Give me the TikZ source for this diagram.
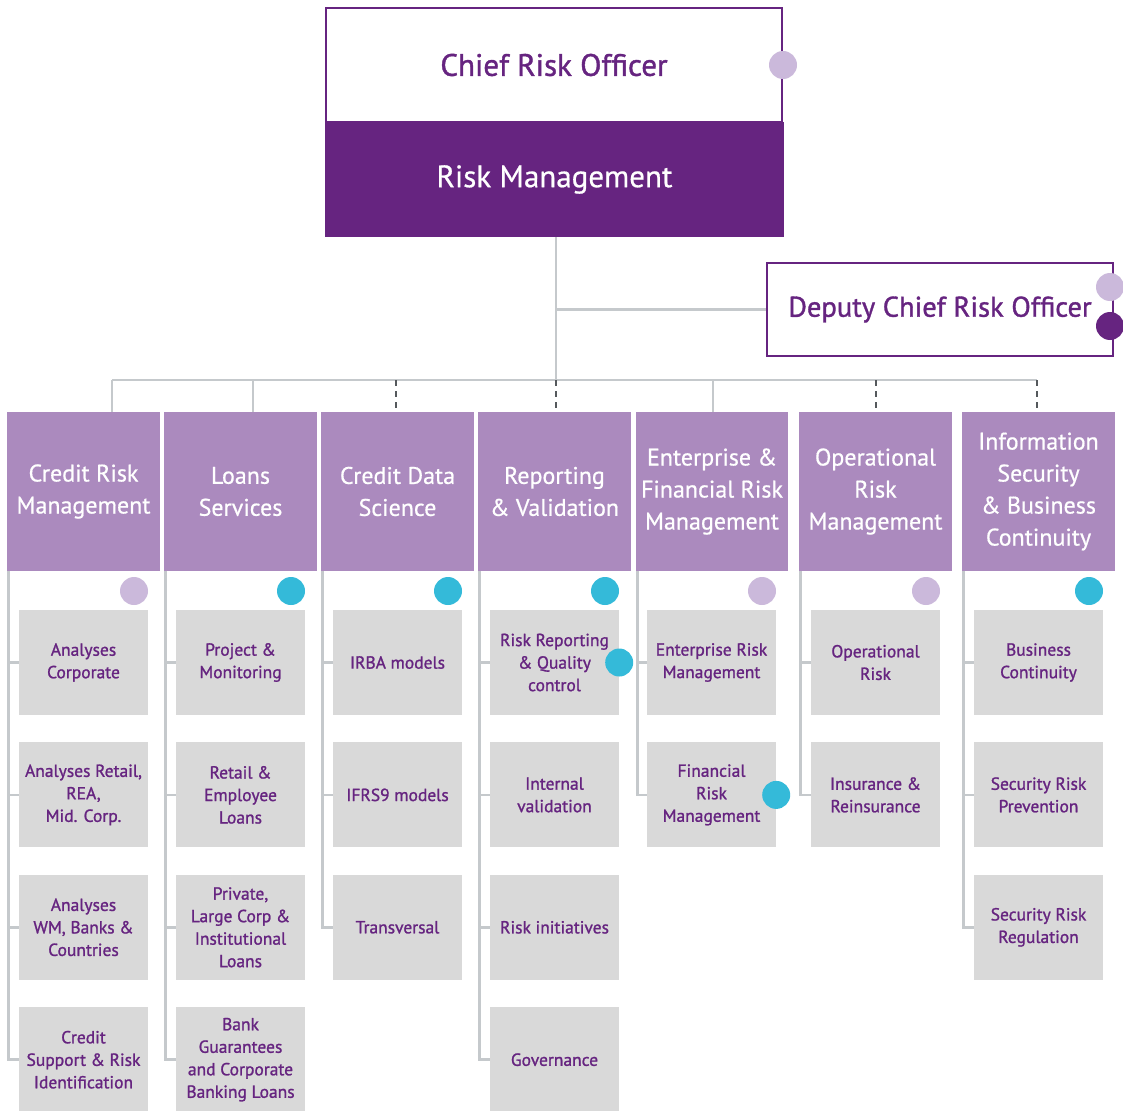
\documentclass[tikz,border=0pt]{standalone}
\usepackage{fontspec}
\setmainfont{PT Sans}
\newfontfamily\unitfont[FakeBold=1.2]{PT Sans}
\newfontfamily\headfont[FakeBold=0.6]{PT Sans}
\usepackage{tikz}
\usetikzlibrary{positioning}
\definecolor{riskpurple}{HTML}{662480}
\definecolor{headpurple}{HTML}{AB8ABE}
\definecolor{lilac}{HTML}{CBB9DB}
\definecolor{teal}{HTML}{34BAD9}
\definecolor{boxgray}{HTML}{D9D9D9}
\definecolor{linegray}{HTML}{C5C9CC}
\definecolor{dashgray}{HTML}{55595C}

\begin{document}
\begin{tikzpicture}[x=1pt, y=-1pt, node distance=27pt,
                    headbox/.style={rectangle, fill=headpurple, text=white, inner sep=0pt,
                                    minimum width=153pt, minimum height=159pt, align=center,
                                    font=\headfont\fontsize{24}{32}\selectfont},
                    unitbox/.style={rectangle, fill=boxgray, text=riskpurple, inner sep=0pt,
                                    minimum width=129pt, minimum height=105pt, align=center,
                                    font=\unitfont\fontsize{17.5}{22.5}\selectfont},
                    litedot/.style={circle, fill=lilac, inner sep=0pt, minimum size=28pt},
                    tealdot/.style={circle, fill=teal, inner sep=0pt, minimum size=28pt},
                    darkdot/.style={circle, fill=riskpurple, inner sep=0pt, minimum size=28pt},
                    link/.style={draw=linegray, line width=2.5pt},
                    dashlink/.style={draw=dashgray, line width=2pt, dash pattern=on 6pt off 5pt}
                   ]
\useasboundingbox (0,0) rectangle (1123,1110);
%Nodes
\node[rectangle, draw=riskpurple, line width=2pt, fill=white, minimum width=456pt, minimum height=114pt,
      text=riskpurple, font=\unitfont\fontsize{31}{36}\selectfont] (cro) at (554,65) {Chief Risk Officer};
\node[rectangle, fill=riskpurple, minimum width=459pt, minimum height=115pt,
      text=white, font=\headfont\fontsize{31}{36}\selectfont] (rm) at (554.5,179.5) {Risk Management};
\node[rectangle, draw=riskpurple, line width=2pt, fill=white, minimum width=346pt, minimum height=93pt,
      text=riskpurple, font=\unitfont\fontsize{28.5}{32}\selectfont] (dep) at (940,309.5) {Deputy Chief Risk Officer};

\node[headbox] (h1) at (83.5,491.5)  {Credit Risk\\Management};
\node[headbox] (h2) at (240.5,491.5) {Loans\\Services};
\node[headbox] (h3) at (397.5,491.5) {Credit Data\\Science};
\node[headbox] (h4) at (554.5,491.5) {Reporting\\\& Validation};
\node[headbox, minimum width=152pt] (h5) at (712,491.5) {Enterprise \&\\Financial Risk\\Management};
\node[headbox] (h6) at (875.5,491.5) {Operational\\Risk\\Management};
\node[headbox] (h7) at (1038.5,491.5) {Information\\Security\\\& Business\\Continuity};

\node[unitbox] (c11) at (83.5,662.5) {Analyses\\Corporate};
\node[unitbox] (c12) [below=of c11] {Analyses Retail,\\REA,\\Mid. Corp.};
\node[unitbox] (c13) [below=of c12] {Analyses\\WM, Banks \&\\Countries};
\node[unitbox] (c14) [below=of c13] {Credit\\Support \& Risk\\Identification};

\node[unitbox] (c21) at (240.5,662.5) {Project \&\\Monitoring};
\node[unitbox] (c22) [below=of c21] {Retail \&\\Employee\\Loans};
\node[unitbox] (c23) [below=of c22] {Private,\\Large Corp \&\\Institutional\\Loans};
\node[unitbox] (c24) [below=of c23] {Bank\\Guarantees\\and Corporate\\Banking Loans};

\node[unitbox] (c31) at (397.5,662.5) {IRBA models};
\node[unitbox] (c32) [below=of c31] {IFRS9 models};
\node[unitbox] (c33) [below=of c32] {Transversal};

\node[unitbox] (c41) at (554.5,662.5) {Risk Reporting\\\& Quality\\control};
\node[unitbox] (c42) [below=of c41] {Internal\\validation};
\node[unitbox] (c43) [below=of c42] {Risk initiatives};
\node[unitbox] (c44) [below=of c43] {Governance};

\node[unitbox] (c51) at (711.5,662.5) {Enterprise Risk\\Management};
\node[unitbox] (c52) [below=of c51] {Financial\\Risk\\Management};

\node[unitbox] (c61) at (875.5,662.5) {Operational\\Risk};
\node[unitbox] (c62) [below=of c61] {Insurance \&\\Reinsurance};

\node[unitbox] (c71) at (1038.5,662.5) {Business\\Continuity};
\node[unitbox] (c72) [below=of c71] {Security Risk\\Prevention};
\node[unitbox] (c73) [below=of c72] {Security Risk\\Regulation};

\coordinate (drop1) at (112,380);
\coordinate (drop2) at (253,380);
\coordinate (drop3) at (396,380);
\coordinate (drop4) at (556,380);
\coordinate (drop5) at (713,380);
\coordinate (drop6) at (876,380);
\coordinate (drop7) at (1037,380);

% %Lines
\draw[link] (drop4 |- rm.south) -- (drop4);
\draw[link] (drop4 |- dep.west) -- (dep.west);
\draw[link] (drop1) -- (drop7);
\draw[link] (drop1) -- (drop1 |- h1.north);
\draw[link] (drop2) -- (drop2 |- h2.north);
\draw[link] (drop5) -- (drop5 |- h5.north);
\draw[dashlink] (drop3) -- (drop3 |- h3.north);
\draw[dashlink] (drop4) -- (drop4 |- h4.north);
\draw[dashlink] (drop6) -- (drop6 |- h6.north);
\draw[dashlink] (drop7) -- (drop7 |- h7.north);

\foreach \c in {c11,c12,c13,c14} \draw[link] ([xshift=1.5pt]h1.south west) |- (\c.west);
\foreach \c in {c21,c22,c23,c24} \draw[link] ([xshift=1.5pt]h2.south west) |- (\c.west);
\foreach \c in {c31,c32,c33}     \draw[link] ([xshift=1.5pt]h3.south west) |- (\c.west);
\foreach \c in {c41,c42,c43,c44} \draw[link] ([xshift=1.5pt]h4.south west) |- (\c.west);
\foreach \c in {c51,c52}         \draw[link] ([xshift=1.5pt]h5.south west) |- (\c.west);
\foreach \c in {c61,c62}         \draw[link] ([xshift=1.5pt]h6.south west) |- (\c.west);
\foreach \c in {c71,c72,c73}     \draw[link] ([xshift=1.5pt]h7.south west) |- (\c.west);

%Dots
\node[litedot] (dcro) at (cro.east) {};
\node[litedot] (ddep1) at (1110,287) {};
\node[darkdot] (ddep2) at (1110,326) {};
\node[litedot] (d1) at (134,591) {};
\node[tealdot] (d2) at (291,591) {};
\node[tealdot] (d3) at (448,591) {};
\node[tealdot] (d4) at (605,591) {};
\node[litedot] (d5) at (762,591) {};
\node[litedot] (d6) at (926,591) {};
\node[tealdot] (d7) at (1089,591) {};
\node[tealdot] (d41) at (c41.east) {};
\node[tealdot] (d52) at (c52.east) {};
\end{tikzpicture}
\end{document}
